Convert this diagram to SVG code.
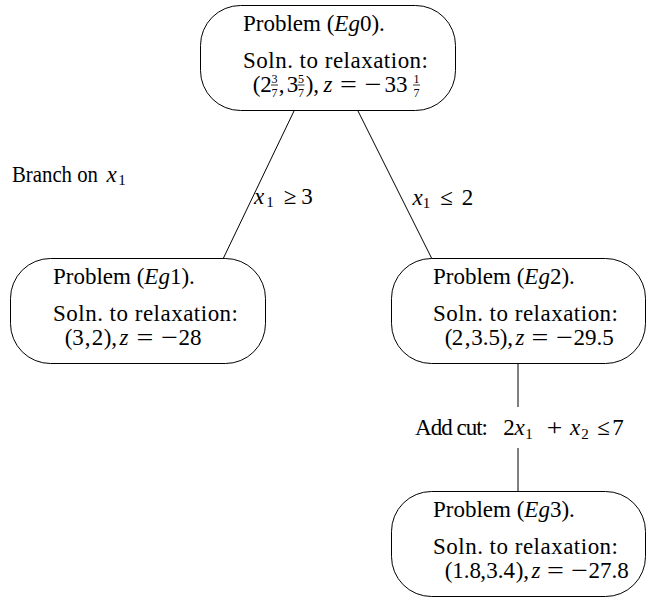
<svg xmlns="http://www.w3.org/2000/svg" width="661" height="604" viewBox="0 0 661 604" font-family="Liberation Serif, Times New Roman, serif">
<style>
.t{font-size:23px;fill:#000}
.i{font-style:italic}
.m{text-anchor:middle}
.s{font-size:15px}
.f{font-size:12px;text-anchor:middle;fill:#000}
.n{fill:#fff;stroke:#000;stroke-width:1}
.e{stroke:#000;stroke-width:1;fill:none}
.b{stroke:#000;stroke-width:0.8}
</style>
<rect width="661" height="604" fill="#fff"/>
<g id="connectors">
<line class="e" x1="294" y1="111" x2="223" y2="259"/>
<line class="e" x1="358" y1="111" x2="432" y2="259"/>
<line class="e" x1="518" y1="364" x2="518" y2="407"/>
<line class="e" x1="518" y1="448" x2="518" y2="491"/>
</g>
<g id="labels">
<text class="t" x="12" y="182" textLength="86" lengthAdjust="spacingAndGlyphs">Branch on</text>
<text class="t i m" x="111.5" y="182">x</text>
<text class="t s m" x="122" y="185">1</text>
<text class="t i m" x="259" y="204">x</text>
<text class="t s m" x="270" y="207">1</text>
<text class="t m" x="290" y="204">≥</text>
<text class="t m" x="307" y="204">3</text>
<text class="t i m" x="417.5" y="205">x</text>
<text class="t s m" x="426.5" y="208">1</text>
<text class="t m" x="446.5" y="205">≤</text>
<text class="t m" x="467.5" y="205">2</text>
<text class="t" x="415" y="435" textLength="73">Add cut:</text>
<text class="t m" x="509" y="435">2</text>
<text class="t i m" x="519.5" y="435">x</text>
<text class="t s m" x="529" y="438.5">1</text>
<text class="t m" transform="translate(554.5,435) scale(1.2,1)">+</text>
<text class="t i m" x="575" y="435">x</text>
<text class="t s m" x="585" y="438.5">2</text>
<text class="t m" x="603.5" y="435">≤</text>
<text class="t m" x="618" y="435">7</text>
</g>
<g id="Eg0">
<rect class="n" x="200.5" y="5.5" width="255" height="105" rx="40" ry="40"/>
<text class="t" x="243" y="31">Problem (<tspan class="i">Eg</tspan>0).</text>
<text class="t" x="243" y="68" textLength="185">Soln. to relaxation:</text>
<text class="t m" x="256.5" y="92">(</text>
<text class="t m" x="266" y="92">2</text>
<text class="f" x="274.5" y="83">3</text><line class="b" x1="271" y1="85" x2="278" y2="85"/><text class="f" x="274.5" y="96.5">7</text>
<text class="t m" x="281.5" y="92">,</text>
<text class="t m" x="292.5" y="92">3</text>
<text class="f" x="301" y="83">5</text><line class="b" x1="297.5" y1="85" x2="304.5" y2="85"/><text class="f" x="301" y="96.5">7</text>
<text class="t m" x="309.5" y="92">)</text>
<text class="t m" x="316" y="92">,</text>
<text class="t i m" x="328" y="92">z</text>
<text class="t m" transform="translate(348.5,92) scale(1.3,1)">=</text>
<text class="t m" transform="translate(373,92) scale(1.3,1)">−</text>
<text class="t m" x="396" y="92">33</text>
<text class="f" x="416.5" y="83">1</text><line class="b" x1="413" y1="85" x2="420" y2="85"/><text class="f" x="416.5" y="96.5">7</text>
</g>
<g id="Eg1">
<rect class="n" x="10.5" y="258.5" width="255" height="105" rx="40" ry="40"/>
<text class="t" x="53" y="284">Problem (<tspan class="i">Eg</tspan>1).</text>
<text class="t" x="53" y="321" textLength="185">Soln. to relaxation:</text>
<text class="t m" x="68.5" y="345">(</text>
<text class="t m" x="78" y="345">3</text>
<text class="t m" x="87.5" y="345">,</text>
<text class="t m" x="97.5" y="345">2</text>
<text class="t m" x="107.5" y="345">)</text>
<text class="t m" x="114" y="345">,</text>
<text class="t i m" x="124" y="345">z</text>
<text class="t m" transform="translate(145,345) scale(1.3,1)">=</text>
<text class="t m" transform="translate(169.5,345) scale(1.3,1)">−</text>
<text class="t m" x="190" y="345">28</text>
</g>
<g id="Eg2">
<rect class="n" x="391.5" y="258.5" width="254" height="105" rx="40" ry="40"/>
<text class="t" x="433" y="284">Problem (<tspan class="i">Eg</tspan>2).</text>
<text class="t" x="433" y="321" textLength="185">Soln. to relaxation:</text>
<text class="t m" x="448.5" y="345">(</text>
<text class="t m" x="457.5" y="345">2</text>
<text class="t m" x="467.5" y="345">,</text>
<text class="t m" x="485.5" y="345">3.5</text>
<text class="t m" x="503.5" y="345">)</text>
<text class="t m" x="510" y="345">,</text>
<text class="t i m" x="520" y="345">z</text>
<text class="t m" transform="translate(540,345) scale(1.3,1)">=</text>
<text class="t m" transform="translate(564.5,345) scale(1.3,1)">−</text>
<text class="t m" x="593.5" y="345">29.5</text>
</g>
<g id="Eg3">
<rect class="n" x="391.5" y="491.5" width="254" height="105" rx="40" ry="40"/>
<text class="t" x="433" y="517">Problem (<tspan class="i">Eg</tspan>3).</text>
<text class="t" x="433" y="554" textLength="185">Soln. to relaxation:</text>
<text class="t m" x="448.5" y="578">(</text>
<text class="t m" x="466.5" y="578">1.8</text>
<text class="t m" x="483" y="578">,</text>
<text class="t m" x="500.5" y="578">3.4</text>
<text class="t m" x="519.5" y="578">)</text>
<text class="t m" x="526" y="578">,</text>
<text class="t i m" x="536" y="578">z</text>
<text class="t m" transform="translate(555.5,578) scale(1.3,1)">=</text>
<text class="t m" transform="translate(579.5,578) scale(1.3,1)">−</text>
<text class="t m" x="608.5" y="578">27.8</text>
</g>
</svg>
